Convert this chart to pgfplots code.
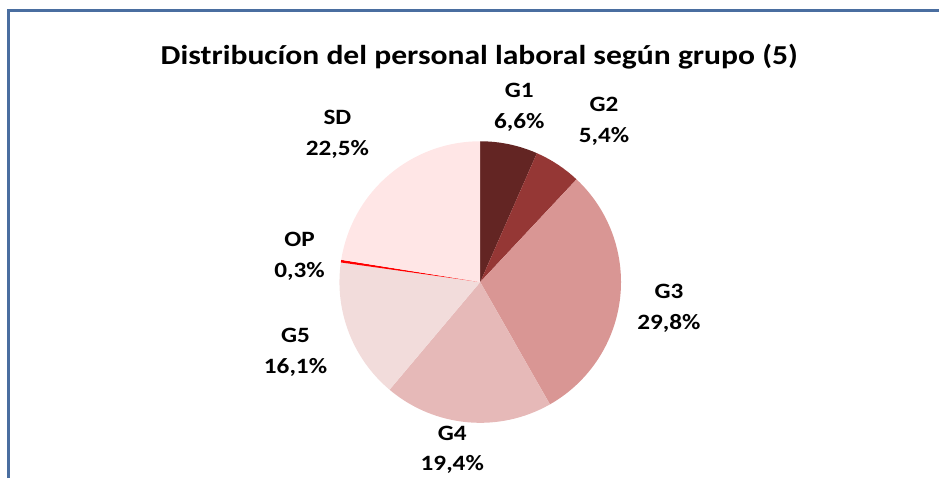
\documentclass[border=0pt]{standalone}
\usepackage{fontspec}
\setmainfont{Carlito}
\usepackage{graphicx}
\usepackage{pgfplots}
\usepackage{pgfplotstable}
\pgfplotsset{compat=1.18}

\definecolor{cG1}{HTML}{632523}
\definecolor{cG2}{HTML}{953735}
\definecolor{cG3}{HTML}{D99694}
\definecolor{cG4}{HTML}{E6B9B8}
\definecolor{cG5}{HTML}{F2DCDB}
\definecolor{cOP}{HTML}{FF0000}
\definecolor{cSD}{HTML}{FFE6E6}
\definecolor{frameblue}{HTML}{4A6EA0}

% share of each group (%)
\pgfplotstableread{
label value
G1 6.6
G2 5.4
G3 29.8
G4 19.4
G5 16.1
OP 0.3
SD 22.5
}\piedata

% start/end angle of every slice, clockwise from the top
\newcommand\cum{0}
\pgfplotstableforeachcolumnelement{value}\of\piedata\as\v{%
  \pgfmathsetmacro\sa{90-3.6*\cum/1.001}%
  \pgfmathsetmacro\newcum{\cum+\v}%
  \pgfmathsetmacro\ea{90-3.6*\newcum/1.001}%
  \expandafter\xdef\csname sa\pgfplotstablerow\endcsname{\sa}%
  \expandafter\xdef\csname ea\pgfplotstablerow\endcsname{\ea}%
  \xdef\cum{\newcum}%
}

% two-line slice label, set a little wide like the original
\newcommand\lbl[2]{\scalebox{1.15}[1]{\setlength\tabcolsep{0pt}\begin{tabular}{c}#1\\#2\end{tabular}}}

\begin{document}
\begin{tikzpicture}
\begin{axis}[
    x=1bp, y=1bp,
    xmin=0, xmax=940, ymin=0, ymax=479,
    hide axis, clip=false,
    scale only axis,
]
\path (axis cs:0,0) rectangle (axis cs:940,479);
\draw[frameblue, line width=3bp] (axis cs:8.5,0) -- (axis cs:8.5,468) -- (axis cs:940,468);

\pgfplotsinvokeforeach{0,...,6}{
  \pgfplotstablegetelem{#1}{label}\of\piedata
  \edef\lab{\pgfplotsretval}
  \edef\doslice{\noexpand\fill[c\lab] (axis cs:481,196.5) -- ++(\csname sa#1\endcsname:141bp)
     arc[start angle=\csname sa#1\endcsname, end angle=\csname ea#1\endcsname, radius=141bp] -- cycle;}
  \doslice
}

\node[font={\bfseries\fontsize{27.5}{32}\selectfont}] at (axis cs:480,422)
  {\scalebox{1.155}[1]{Distribucíon del personal laboral según grupo (5)}};

\tikzset{lb/.style={inner sep=0pt, font={\bfseries\fontsize{22}{31}\selectfont}}}
\node[lb] at (axis cs:520,372) {\lbl{G1}{6,6\%}};
\node[lb] at (axis cs:605,358) {\lbl{G2}{5,4\%}};
\node[lb] at (axis cs:670,171) {\lbl{G3}{29,8\%}};
\node[lb] at (axis cs:453,29) {\lbl{G4}{19,4\%}};
\node[lb] at (axis cs:296,127) {\lbl{G5}{16,1\%}};
\node[lb] at (axis cs:300,223) {\lbl{OP}{0,3\%}};
\node[lb] at (axis cs:338,345) {\lbl{SD}{22,5\%}};
\end{axis}
\end{tikzpicture}
\end{document}
